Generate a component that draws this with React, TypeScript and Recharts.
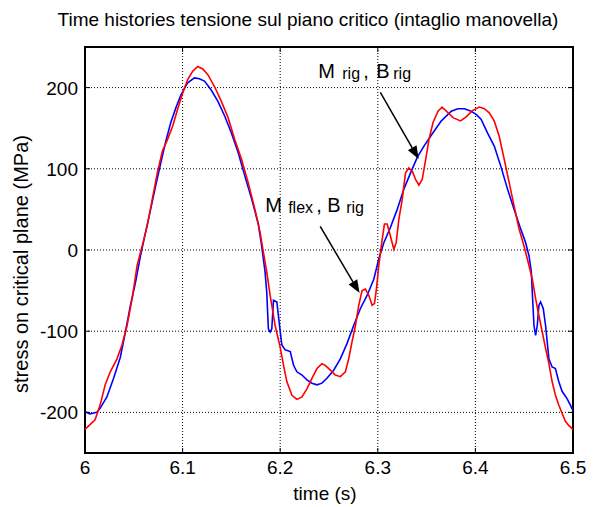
import React from "react";
import {
  LineChart,
  Line,
  XAxis,
  YAxis,
  CartesianGrid,
  ReferenceArea,
  ReferenceLine,
  ReferenceDot,
} from "recharts";

// M rig , B rig (blue)
const rigTime = [
  6.0, 6.005, 6.012, 6.0155, 6.0224, 6.0293, 6.0362, 6.0414, 6.0466, 6.0517,
  6.0569, 6.0621, 6.0672, 6.0724, 6.0776, 6.0828, 6.0879, 6.0931, 6.0983, 6.1052,
  6.1121, 6.1172, 6.1224, 6.1293, 6.1362, 6.1431, 6.15, 6.1569, 6.1638, 6.1707,
  6.1776, 6.181, 6.1845, 6.1862, 6.1879, 6.1897, 6.1914, 6.1931, 6.1966, 6.1993,
  6.2017, 6.2051, 6.2103, 6.2137, 6.2171, 6.2223, 6.2274, 6.2325, 6.2377, 6.2428,
  6.2479, 6.2548, 6.2616, 6.2685, 6.2753, 6.2822, 6.289, 6.2959, 6.301, 6.3062,
  6.313, 6.3199, 6.3267, 6.3336, 6.3404, 6.3473, 6.3541, 6.361, 6.3651, 6.3753,
  6.382, 6.3888, 6.3956, 6.4007, 6.4058, 6.4125, 6.4193, 6.4261, 6.4329, 6.4397,
  6.4464, 6.4515, 6.4549, 6.4573, 6.4583, 6.46, 6.4617, 6.4634, 6.4651, 6.4668,
  6.4695, 6.4719, 6.4753, 6.4786, 6.482, 6.4854, 6.4888, 6.4939, 6.4973, 6.5,
];
const rigStress = [
  -199, -202, -200, -195, -181, -158, -132, -101, -68, -40,
  -7, 22, 50, 79, 107, 134, 157, 175, 191, 206,
  212, 211, 208, 197, 183, 165, 144, 120, 91, 63,
  32, 5, -27, -52, -97, -101, -97, -62, -64, -93,
  -117, -123, -125, -142, -150, -154, -160, -164, -166, -164,
  -158, -148, -134, -115, -93, -72, -56, -36, -11, 9,
  28, 50, 75, 95, 114, 128, 140, 152, 159, 171,
  174, 174, 171, 167, 161, 144, 128, 103, 75, 50,
  26, 9, -7, -27, -52, -93, -105, -93, -68, -64,
  -72, -93, -134, -144, -146, -162, -174, -183, -191, -198,
];

// M flex , B rig (red)
const flexTime = [
  6.0, 6.0052, 6.0103, 6.0155, 6.0207, 6.0259, 6.0328, 6.0379, 6.0431, 6.0483,
  6.0534, 6.0586, 6.0638, 6.069, 6.0741, 6.0793, 6.0845, 6.0897, 6.0948, 6.1,
  6.1052, 6.1103, 6.1155, 6.1207, 6.1259, 6.1328, 6.1397, 6.1466, 6.1534, 6.1603,
  6.1672, 6.1741, 6.1793, 6.1828, 6.1862, 6.1897, 6.1948, 6.2, 6.2034, 6.2068,
  6.212, 6.2171, 6.2223, 6.2274, 6.2325, 6.2377, 6.2428, 6.2462, 6.2514, 6.2565,
  6.2616, 6.2668, 6.2702, 6.2736, 6.2771, 6.2805, 6.2839, 6.2873, 6.2908, 6.2942,
  6.2966, 6.2986, 6.301, 6.3045, 6.3068, 6.3096, 6.313, 6.3164, 6.3188, 6.3216,
  6.325, 6.3284, 6.3318, 6.3353, 6.3387, 6.3421, 6.3455, 6.349, 6.3524, 6.3566,
  6.3617, 6.3658, 6.3702, 6.377, 6.3847, 6.3905, 6.3973, 6.4041, 6.4092, 6.4142,
  6.4193, 6.4244, 6.4295, 6.4346, 6.4397, 6.4447, 6.4498, 6.4549, 6.4583, 6.4617,
  6.4651, 6.4685, 6.4719, 6.4753, 6.4786, 6.482, 6.4854, 6.4888, 6.4922, 6.4956,
  6.5,
];
const flexStress = [
  -221, -215, -209, -191, -166, -150, -134, -117, -93, -60,
  -19, 5, 30, 63, 95, 122, 136, 152, 173, 193,
  210, 220, 226, 223, 216, 201, 183, 163, 136, 112,
  83, 50, 22, -3, -27, -56, -93, -120, -142, -162,
  -179, -184, -181, -171, -158, -146, -140, -142, -148, -154,
  -156, -150, -134, -113, -93, -68, -50, -48, -56, -68,
  -66, -48, -19, 13, 32, 32, 17, 1, 9, 38,
  62, 95, 101, 97, 87, 80, 87, 111, 136, 157,
  171, 176, 171, 163, 159, 164, 172, 176, 174, 169,
  159, 140, 112, 83, 54, 26, 5, -19, -36, -60,
  -81, -101, -121, -140, -162, -179, -191, -201, -211, -216,
  -221,
];

const timeTicks = [6, 6.1, 6.2, 6.3, 6.4, 6.5];
const stressTicks = [-200, -100, 0, 100, 200];

const rigData = rigTime.map((t, i) => ({ t, v: rigStress[i] }));
const flexData = flexTime.map((t, i) => ({ t, v: flexStress[i] }));

const W = 603;
const H = 507;
const PLOT_L = 85;
const PLOT_R = 573;
const PLOT_T = 47;
const PLOT_B = 453;
const FONT = "'Liberation Sans', Arial, sans-serif";

const XTick = (p: any) => {
  const { x, payload } = p;
  return (
    <g>
      <line x1={x} x2={x} y1={PLOT_B} y2={PLOT_B - 5} stroke="#000" />
      <line x1={x} x2={x} y1={PLOT_T} y2={PLOT_T + 5} stroke="#000" />
      <text x={x} y={PLOT_B + 21} textAnchor="middle" fontSize={19} fontFamily={FONT} fill="#000">
        {payload.value}
      </text>
    </g>
  );
};

const YTick = (p: any) => {
  const { y, payload } = p;
  return (
    <g>
      <line x1={PLOT_L} x2={PLOT_L + 5} y1={y} y2={y} stroke="#000" />
      <line x1={PLOT_R - 5} x2={PLOT_R} y1={y} y2={y} stroke="#000" />
      <text x={PLOT_L - 7} y={y + 7} textAnchor="end" fontSize={19} fontFamily={FONT} fill="#000">
        {payload.value}
      </text>
    </g>
  );
};

const Arrow = (p: any) => {
  const { x1, y1, x2, y2 } = p;
  const a = Math.atan2(y2 - y1, x2 - x1);
  const len = 13;
  const half = 5;
  const bx = x2 - len * Math.cos(a);
  const by = y2 - len * Math.sin(a);
  const px = -Math.sin(a) * half;
  const py = Math.cos(a) * half;
  return (
    <g>
      <line x1={x1} y1={y1} x2={bx} y2={by} stroke="#000" strokeWidth={1.5} />
      <polygon points={`${x2},${y2} ${bx + px},${by + py} ${bx - px},${by - py}`} fill="#000" />
    </g>
  );
};

// pieces of an annotation: text, font size, offset from start
const labelShape = (parts: [string, number, number][]) => (p: any) => (
  <g fontFamily={FONT} fill="#000">
    {parts.map(([s, fs, dx], i) => (
      <text key={i} x={p.cx + dx} y={p.cy + (fs < 18 ? 1 : 0)} fontSize={fs}>
        {s}
      </text>
    ))}
  </g>
);

const rigLabel: [string, number, number][] = [
  ["M", 20, 0],
  ["rig", 16, 24],
  [",", 20, 45],
  ["B", 20, 58],
  ["rig", 16, 75],
];
const flexLabel: [string, number, number][] = [
  ["M", 20, 0],
  ["flex", 16, 23],
  [",", 20, 51],
  ["B", 20, 62],
  ["rig", 16, 81],
];

export default function App() {
  return (
    <div style={{ position: "absolute", left: 0, top: 0, width: W, height: H, background: "#fff" }}>
      <div
        style={{
          position: "absolute",
          top: 9,
          left: 8,
          width: 600,
          textAlign: "center",
          fontFamily: FONT,
          fontSize: 19,
          whiteSpace: "nowrap",
          color: "#000",
        }}
      >
        Time histories tensione sul piano critico (intaglio manovella)
      </div>
      <LineChart
        width={W}
        height={H}
        margin={{ top: PLOT_T, right: W - PLOT_R, bottom: 0, left: 0 }}
      >
        <CartesianGrid stroke="#000" strokeDasharray="1 2" strokeWidth={1} />
        <XAxis
          type="number"
          dataKey="t"
          domain={[6, 6.5]}
          ticks={timeTicks}
          allowDataOverflow
          height={H - PLOT_B}
          axisLine={false}
          tickLine={false}
          tick={<XTick />}
          label={{
            content: () => (
              <text x={325} y={500} textAnchor="middle" fontSize={19} fontFamily={FONT} fill="#000">
                time (s)
              </text>
            ),
          }}
        />
        <YAxis
          type="number"
          domain={[-250, 250]}
          ticks={stressTicks}
          allowDataOverflow
          width={PLOT_L}
          axisLine={false}
          tickLine={false}
          tick={<YTick />}
          label={{
            content: () => (
              <text
                x={21}
                y={264}
                transform="rotate(-90 21 264)"
                textAnchor="middle"
                dominantBaseline="central"
                fontSize={20}
                fontFamily={FONT}
                fill="#000"
              >
                stress on critical plane (MPa)
              </text>
            ),
          }}
        />
        <Line
          data={rigData}
          dataKey="v"
          type="linear"
          stroke="#0000ff"
          strokeWidth={1.6}
          dot={false}
          isAnimationActive={false}
        />
        <Line
          data={flexData}
          dataKey="v"
          type="linear"
          stroke="#ff0000"
          strokeWidth={1.6}
          dot={false}
          isAnimationActive={false}
        />
        <ReferenceLine
          segment={[{ x: 6.3026, y: 194 }, { x: 6.3419, y: 112 }]}
          shape={Arrow}
        />
        <ReferenceLine
          segment={[{ x: 6.241, y: 29 }, { x: 6.2813, y: -53 }]}
          shape={Arrow}
        />
        <ReferenceDot x={6.239} y={212} r={0} shape={labelShape(rigLabel)} />
        <ReferenceDot x={6.1846} y={47} r={0} shape={labelShape(flexLabel)} />
        <ReferenceArea
          x1={6}
          x2={6.5}
          y1={-250}
          y2={250}
          fill="none"
          stroke="#000"
          strokeWidth={2}
          ifOverflow="visible"
        />
      </LineChart>
    </div>
  );
}
